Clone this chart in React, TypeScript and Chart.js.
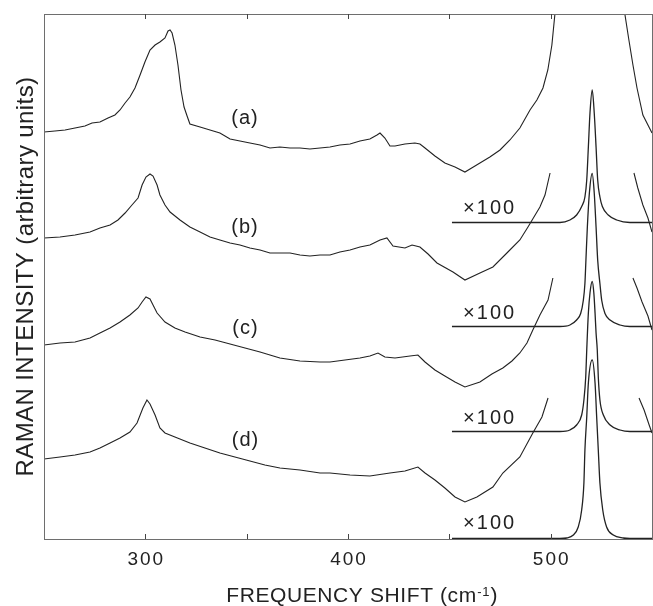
import React, { useEffect, useRef } from "react";
import { Chart, registerables } from "chart.js";

Chart.register(...registerables);

// ---------- data (Raman shift in cm-1, intensity in arbitrary units, stacked traces) ----------
const SHIFT_A = [250, 255.4, 260.4, 265.3, 270.2, 273.7, 277.6, 281.6, 285, 287.5, 290, 292.4, 294.9, 297.4, 299.8, 302.3, 304.8, 307.2, 309.7, 311.2, 312.2, 313.2, 314.6, 316.1, 317.6, 319.1, 320.6, 322, 327, 331.9, 336.8, 341.8, 346.7, 351.6, 356.6, 361.5, 366.4, 371.4, 376.3, 381.2, 386.2, 391.1, 396, 401, 405.9, 410.8, 414.3, 415.8, 418.2, 420.7, 423.2, 428.1, 433, 435.5, 438, 442.9, 447.8, 452.8, 457.7, 460.2, 465.1, 470, 475, 479.9, 484.8, 489.8, 493.2, 496.2, 498.6, 500.6, 502.1, 520, 536.6, 538.6, 540.6, 542.6, 545.5, 550];
const INT_A = [81.4, 81.6, 81.8, 82.2, 82.6, 83.2, 83.4, 84.2, 84.8, 85.8, 87.2, 88.4, 90.2, 92.8, 95.4, 97.8, 98.8, 99.4, 100.2, 101.6, 101.8, 101.2, 98.8, 94.8, 89.8, 86.4, 84.6, 83.0, 82.4, 81.8, 81.2, 80.0, 79.6, 79.2, 78.8, 78.2, 78.4, 78.2, 78.2, 78.0, 78.2, 78.4, 78.8, 79.0, 79.6, 80.0, 80.8, 81.2, 80.2, 78.6, 78.6, 79.0, 79.2, 79.0, 78.2, 76.6, 75.2, 74.4, 73.4, 74.0, 75.2, 76.4, 77.8, 79.8, 82.2, 85.8, 87.8, 90.2, 93.8, 98.8, 105, null, 105, 99.8, 94.8, 90.2, 84.8, 81.2];

const SHIFT_B = [250, 257.9, 265.3, 272.7, 277.6, 282.6, 286.5, 290, 293.4, 296.4, 298.4, 300.3, 302.3, 303.8, 305.8, 307.2, 309.7, 312.2, 317.1, 322, 327, 331.9, 336.8, 341.8, 346.7, 351.6, 356.6, 361.5, 366.4, 371.4, 376.3, 381.2, 386.2, 391.1, 396, 401, 405.9, 410.8, 415.8, 419.2, 422.2, 428.1, 431.6, 435.5, 439.5, 443.9, 451.8, 457.7, 465.1, 471.5, 478.4, 484.8, 488.8, 494.7, 497.2, 499.7, 520, 541.1, 543, 545.5, 548, 550];
const INT_B = [60.2, 60.4, 60.8, 61.4, 62.2, 62.8, 63.8, 65.2, 66.8, 68.2, 70.8, 72.4, 73.0, 72.6, 70.8, 68.8, 66.8, 65.4, 63.8, 62.4, 61.4, 60.4, 59.8, 59.2, 58.8, 58.2, 57.8, 57.2, 57.2, 57.2, 56.8, 56.6, 56.8, 56.8, 57.4, 57.8, 58.4, 58.8, 59.8, 60.2, 58.6, 58.2, 58.8, 58.4, 57.0, 55.2, 53.4, 51.8, 53.2, 54.4, 57.2, 59.8, 62.4, 66.4, 68.8, 73.2, null, 73.2, 70.2, 66.8, 64.2, 61.4];

const SHIFT_C = [250, 257.9, 265.3, 272.7, 277.6, 282.6, 287.5, 292.4, 296.4, 298.4, 300.3, 302.3, 303.8, 305.8, 309.7, 314.6, 319.6, 327, 334.4, 341.8, 349.2, 356.6, 366.4, 376.3, 386.2, 391.1, 398.5, 405.9, 410.8, 414.8, 418.2, 423.2, 430.6, 434.5, 438, 442.9, 447.8, 452.8, 457.7, 465.1, 471, 476.4, 480.9, 484.8, 488.3, 491.2, 494.7, 498.7, 501.1, 520, 540.6, 542.6, 545.1, 548, 550];
const INT_C = [38.8, 39.2, 39.4, 40.2, 41.2, 42.2, 43.4, 44.8, 46.2, 47.4, 48.4, 48.0, 46.8, 45.2, 43.4, 42.2, 41.4, 40.4, 39.8, 39.0, 38.2, 37.4, 36.2, 35.6, 35.4, 35.4, 35.8, 36.2, 36.6, 37.2, 36.4, 36.2, 36.6, 36.8, 35.4, 33.8, 32.6, 31.4, 30.4, 31.4, 33.0, 34.2, 35.6, 37.2, 39.2, 41.8, 44.8, 47.8, 52.2, null, 52.2, 50.2, 47.4, 44.6, 41.8];

const SHIFT_D = [250, 257.9, 265.3, 272.7, 277.6, 282.6, 287.5, 292.4, 295.9, 298.8, 300.8, 302.3, 304.8, 307.2, 309.7, 314.6, 322, 329.4, 336.8, 344.2, 351.6, 359, 366.4, 376.3, 386.2, 391.1, 401, 410.8, 420.7, 428.1, 434.5, 438, 442.9, 447.8, 452.8, 457.7, 463.6, 471.5, 476.4, 484.8, 491.2, 495.7, 498.7, 520, 543.6, 546.1, 548.6, 550];
const INT_D = [16.0, 16.4, 16.8, 17.4, 18.2, 19.2, 20.2, 21.4, 23.2, 26.2, 27.8, 27.0, 24.8, 22.2, 21.2, 20.4, 19.2, 18.2, 17.2, 16.4, 15.6, 14.8, 14.2, 13.8, 13.2, 13.2, 12.8, 12.6, 13.2, 13.6, 14.4, 13.2, 11.8, 10.2, 8.4, 7.4, 8.4, 10.4, 13.2, 16.4, 21.2, 24.4, 28.2, null, 28.2, 25.8, 22.8, 21.2];

// Si line at ~520 cm-1, reduced by a factor 100
const SHIFT_X1 = [451.3, 504.6, 509.5, 512.8, 515.3, 516.9, 517.8, 518.6, 519.4, 520.5, 521.5, 522.4, 523.2, 524.3, 525.5, 528.4, 532.6, 539.1, 550];
const INT_X1 = [63.3, 63.3, 63.8, 64.8, 66.5, 68.4, 71.8, 78.4, 85.2, 89.8, 85.2, 78.4, 71.8, 68.4, 66.5, 64.8, 63.8, 63.3, 63.3];

const SHIFT_X2 = [451.3, 504.6, 509.5, 512.8, 514.8, 516.1, 516.9, 517.4, 518.1, 519.1, 520.5, 521.5, 522.4, 523.2, 524.3, 525.2, 526.8, 529.3, 534.2, 539.1, 550];
const INT_X2 = [42.5, 42.5, 42.8, 43.8, 45.1, 47.7, 51.1, 55.8, 62.4, 69.2, 73.1, 69.2, 62.4, 55.8, 51.1, 47.7, 45.1, 43.8, 42.8, 42.5, 42.5];

const SHIFT_X3 = [451.3, 504.6, 509.5, 512.8, 515.3, 516.4, 517.3, 517.8, 518.6, 519.4, 520.5, 521.3, 521.9, 522.4, 523.0, 523.5, 524.3, 526.0, 529.3, 534.2, 539.1, 550];
const INT_X3 = [21.5, 21.5, 21.8, 22.8, 24.8, 27.8, 32.4, 37.8, 45.2, 49.2, 51.5, 49.2, 45.2, 41.2, 37.8, 32.4, 27.8, 24.8, 22.8, 21.8, 21.5, 21.5];

const SHIFT_X4 = [451.3, 504.6, 507.9, 511.2, 513.6, 515.3, 516.4, 516.9, 517.8, 518.6, 520.5, 521.9, 522.7, 523.5, 524.3, 525.7, 527.6, 530.9, 535.8, 539.1, 550];
const INT_X4 = [0.1, 0.1, 0.2, 0.8, 2.4, 5.8, 11.2, 17.8, 24.4, 31.2, 35.8, 31.2, 24.4, 17.8, 11.2, 5.8, 2.4, 0.8, 0.2, 0.1, 0.1];

const X_MIN = 250;
const X_MAX = 550;
const Y_MIN = 0;
const Y_MAX = 105;
const TICKS_MAJOR = [300, 400, 500];
const TICKS_MINOR = [350, 450];

const TRACE_LABELS = ["(a)", "(b)", "(c)", "(d)"];
const TRACE_LABEL_SHIFT = [349.2, 349.2, 349.4, 349.4];
const TRACE_LABEL_INT = [84.2, 62.4, 42.2, 19.8];
const SCALE_LABEL = "\u00d7100";
const SCALE_LABEL_SHIFT = [455.3, 455.3, 455.3, 455.3];
const SCALE_LABEL_INT = [66.2, 45.2, 24.2, 3.2];

const X_TITLE = "FREQUENCY SHIFT (cm";
const X_TITLE_SUP = "-1";
const X_TITLE_END = ")";
const Y_TITLE = "RAMAN INTENSITY (arbitrary units)";

const INK = "#222222";
const FONT = "'Liberation Sans', Arial, Helvetica, sans-serif";

function series(xs: number[], ys: (number | null)[]) {
  return xs.map((x, i) => ({ x, y: ys[i] }));
}

const decorPlugin = {
  id: "decor",
  afterDraw(chart: any) {
    const ctx: CanvasRenderingContext2D = chart.ctx;
    const ca = chart.chartArea;
    const xs = chart.scales.x;
    const ys = chart.scales.y;
    ctx.save();

    // frame
    ctx.strokeStyle = "#6e6e6e";
    ctx.lineWidth = 1;
    ctx.strokeRect(ca.left + 0.5, ca.top + 0.5, ca.right - ca.left, ca.bottom - ca.top);

    // inward ticks on top and bottom
    ctx.strokeStyle = "#444";
    for (const t of [...TICKS_MAJOR, ...TICKS_MINOR]) {
      const px = Math.round(xs.getPixelForValue(t)) + 0.5;
      ctx.beginPath();
      ctx.moveTo(px, ca.bottom);
      ctx.lineTo(px, ca.bottom - 5);
      ctx.moveTo(px, ca.top);
      ctx.lineTo(px, ca.top + 5);
      ctx.stroke();
    }

    ctx.fillStyle = INK;
    // tick labels
    ctx.font = `19px ${FONT}`;
    (ctx as any).letterSpacing = "2px";
    ctx.textAlign = "center";
    ctx.textBaseline = "middle";
    for (const t of TICKS_MAJOR) {
      ctx.fillText(String(t), xs.getPixelForValue(t) + 1, ca.bottom + 21);
    }

    // trace labels
    ctx.font = `20px ${FONT}`;
    (ctx as any).letterSpacing = "1px";
    TRACE_LABELS.forEach((lab, i) => {
      ctx.fillText(lab, xs.getPixelForValue(TRACE_LABEL_SHIFT[i]), ys.getPixelForValue(TRACE_LABEL_INT[i]));
    });

    // x100 labels
    ctx.textAlign = "left";
    ctx.font = `20px ${FONT}`;
    (ctx as any).letterSpacing = "2px";
    SCALE_LABEL_SHIFT.forEach((sx, i) => {
      ctx.fillText(SCALE_LABEL, xs.getPixelForValue(sx) + 3, ys.getPixelForValue(SCALE_LABEL_INT[i]));
    });

    // x title with superscript
    ctx.textBaseline = "alphabetic";
    (ctx as any).letterSpacing = "0.6px";
    ctx.font = `21px ${FONT}`;
    const w1 = ctx.measureText(X_TITLE).width;
    const w3 = ctx.measureText(X_TITLE_END).width;
    ctx.font = `13px ${FONT}`;
    const w2 = ctx.measureText(X_TITLE_SUP).width;
    const total = w1 + w2 + w3 + 1;
    const cx = xs.getPixelForValue(407);
    const x0 = cx - total / 2;
    const base = ca.bottom + 63;
    ctx.font = `21px ${FONT}`;
    ctx.fillText(X_TITLE, x0, base);
    ctx.font = `13px ${FONT}`;
    ctx.fillText(X_TITLE_SUP, x0 + w1 + 0.5, base - 6);
    ctx.font = `21px ${FONT}`;
    ctx.fillText(X_TITLE_END, x0 + w1 + w2 + 1, base);

    // y title
    ctx.font = `24px ${FONT}`;
    (ctx as any).letterSpacing = "0.4px";
    ctx.textAlign = "center";
    ctx.translate(33, (ca.top + ca.bottom) / 2);
    ctx.rotate(-Math.PI / 2);
    ctx.fillText(Y_TITLE, 0, 0);

    ctx.restore();
  },
};

export default function App() {
  const ref = useRef<HTMLCanvasElement | null>(null);

  useEffect(() => {
    if (!ref.current) return;
    document.body.style.margin = "0";
    const spectrum = (xs: number[], ys: (number | null)[]) => ({
      data: series(xs, ys),
      borderColor: INK,
      borderWidth: 1.1,
      pointRadius: 0,
      tension: 0,
      spanGaps: false,
      fill: false,
    });
    const siLine = (xs: number[], ys: number[]) => ({
      data: series(xs, ys),
      borderColor: INK,
      borderWidth: 1.3,
      pointRadius: 0,
      cubicInterpolationMode: "monotone",
      fill: false,
    });
    const chart = new Chart(ref.current, {
      type: "line",
      data: {
        datasets: [
          spectrum(SHIFT_A, INT_A),
          spectrum(SHIFT_B, INT_B),
          spectrum(SHIFT_C, INT_C),
          spectrum(SHIFT_D, INT_D),
          siLine(SHIFT_X1, INT_X1),
          siLine(SHIFT_X2, INT_X2),
          siLine(SHIFT_X3, INT_X3),
          siLine(SHIFT_X4, INT_X4),
        ] as any,
      },
      options: {
        responsive: false,
        animation: false,
        events: [],
        layout: { padding: { left: 44, right: 1, top: 14, bottom: 67 } },
        plugins: { legend: { display: false }, tooltip: { enabled: false } },
        scales: {
          x: { type: "linear", min: X_MIN, max: X_MAX, display: false },
          y: { type: "linear", min: Y_MIN, max: Y_MAX, display: false },
        },
      },
      plugins: [decorPlugin],
    });
    return () => chart.destroy();
  }, []);

  return (
    <canvas
      ref={ref}
      width={653}
      height={606}
      style={{ position: "absolute", left: 0, top: 0, background: "#fff" }}
    />
  );
}
